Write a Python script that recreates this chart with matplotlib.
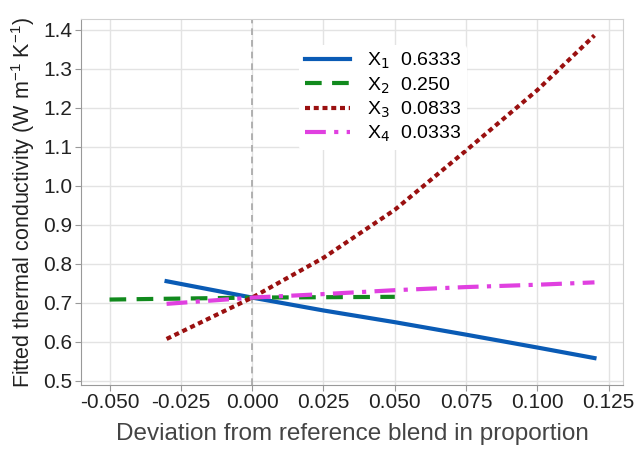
import numpy as np
import matplotlib.pyplot as plt

plt.rcParams['font.family'] = ['Liberation Sans', 'DejaVu Sans']

# values
x_a = [-0.03, 0.0, 0.025, 0.05, 0.075, 0.1, 0.12]
x1 = [0.755, 0.713, 0.680, 0.650, 0.618, 0.585, 0.558]
x3 = [0.607, 0.713, 0.815, 0.938, 1.090, 1.245, 1.385]
x4 = [0.697, 0.713, 0.722, 0.732, 0.740, 0.746, 0.752]
x_b = [-0.05, 0.0, 0.05]
x2 = [0.708, 0.713, 0.715]

labels = [r'X$_1$  0.6333', r'X$_2$  0.250', r'X$_3$  0.0833', r'X$_4$  0.0333']
xticks = [-0.05, -0.025, 0.0, 0.025, 0.05, 0.075, 0.1, 0.125]
yticks = [0.5, 0.6, 0.7, 0.8, 0.9, 1.0, 1.1, 1.2, 1.3, 1.4]

fig = plt.figure(figsize=(6.36, 4.49), dpi=100)
ax = fig.add_axes([81/636, 1 - 385/449, 542/636, 366/449])

ax.axvline(0, color='#a6a6a6', lw=1.2, ls=(0, (4, 3)), zorder=1)
ax.plot(x_a, x1, color='#0a5bb5', lw=3, label=labels[0], zorder=3)
ax.plot(x_b, x2, color='#118a1d', lw=3, ls=(0, (4, 2.5)), label=labels[1], zorder=3)
ax.plot(x_a, x3, color='#9a1010', lw=3, ls=(0, (1.2, 0.9)), label=labels[2], zorder=3)
ax.plot(x_a, x4, color='#e040e0', lw=3, ls=(0, (5, 2, 1, 2)), label=labels[3], zorder=3)

ax.set_xlim(-0.06, 0.13)
ax.set_ylim(0.489, 1.427)
ax.set_xticks(xticks)
ax.set_xticklabels([f'{t:.3f}' for t in xticks])
ax.set_yticks(yticks)
ax.set_yticklabels([f'{t:.1f}' for t in yticks])
ax.tick_params(labelsize=15, colors='#222222', length=4, color='#999999', pad=2)
ax.grid(True, color='#e3e3e3', lw=1)
ax.set_axisbelow(True)
for s in ['top', 'right']:
    ax.spines[s].set_color('#d0d0d0')
for s in ['left', 'bottom']:
    ax.spines[s].set_color('#999999')

ax.set_xlabel('Deviation from reference blend in proportion', fontsize=17.5, color='#444444', labelpad=8)
ax.set_ylabel(r'Fitted thermal conductivity (W m$^{\mathregular{-1}}$ K$^{\mathregular{-1}}$)',
              fontsize=15.5, color='#222222', labelpad=5)

leg = ax.legend(loc='upper left', bbox_to_anchor=(0.385, 0.955), fontsize=14, frameon=True,
                handlelength=2.3, labelspacing=0.2, borderpad=0.3, handletextpad=0.9)
leg.get_frame().set_edgecolor('none')
leg.get_frame().set_alpha(1)

fig.savefig('out.png', dpi=100)
